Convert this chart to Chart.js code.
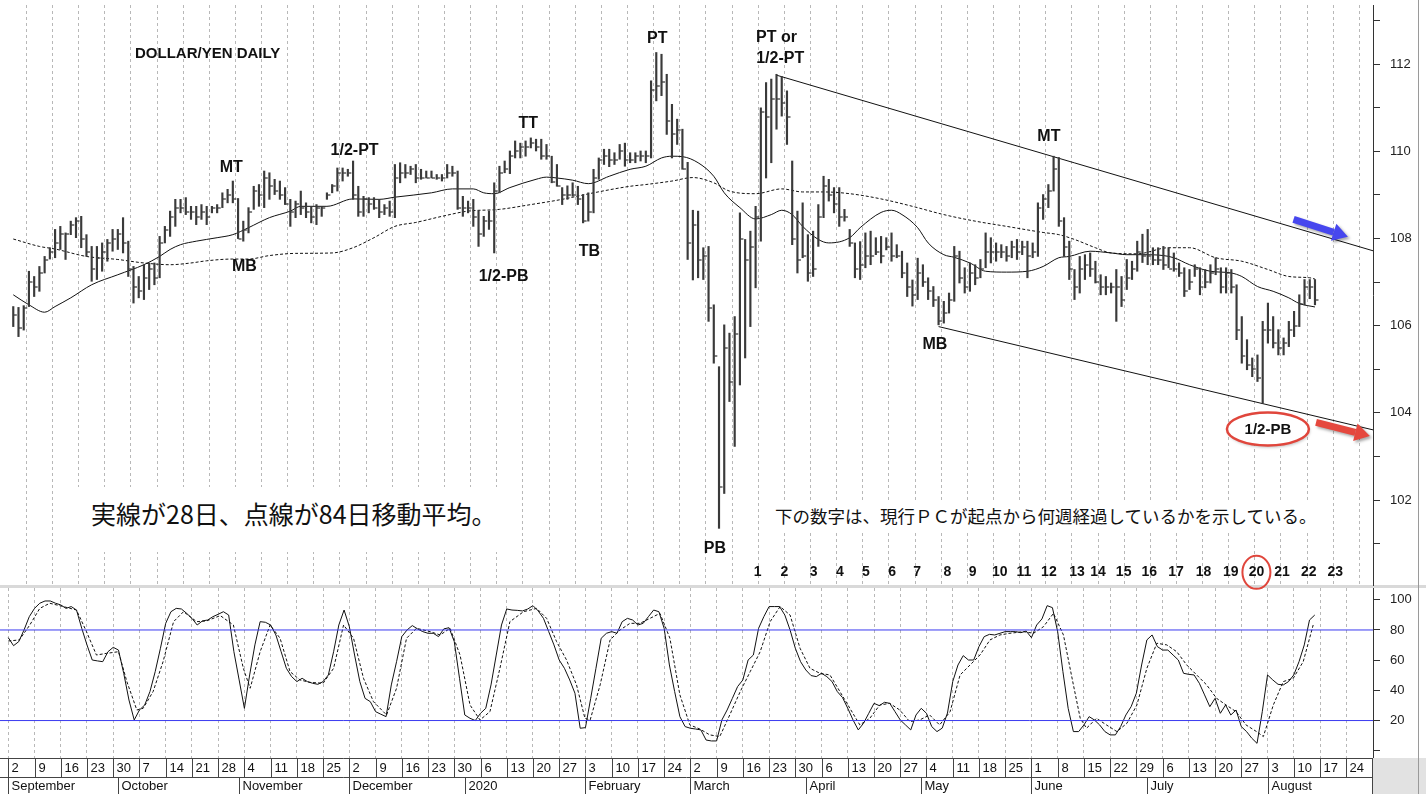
<!DOCTYPE html>
<html>
<head>
<meta charset="utf-8">
<script src="https://cdn.jsdelivr.net/npm/chart.js"></script>
<style>
  body { margin: 0; background: #fff; width: 1426px; height: 794px; overflow: hidden; position: relative; font-family: "Liberation Sans", Arial, sans-serif; }
  #priceChart { position: absolute; left: 0; top: 0; z-index: 2; }
  #stochChart { position: absolute; left: 0; top: 585px; z-index: 1; }
  .band { position: absolute; left: 0; top: 585px; width: 1426px; height: 3px; background: #d9d9d9; z-index: 0; }
  .edge { position: absolute; left: 1418px; top: 0; width: 1px; height: 794px; background: #9a9a9a; z-index: 3; }
  .title { position: absolute; left: 135px; top: 44px; font: bold 15px "Liberation Sans", Arial, sans-serif; color: #111; z-index: 3; }
  .note { position: absolute; background: #fff; color: #111; white-space: nowrap; font-family: "Noto Sans CJK JP", sans-serif; z-index: 3; }
  #note1 { left: 78px; top: 487px; width: 432px; height: 65px; font-size: 25px; line-height: 52px; padding-left: 13px; box-sizing: border-box; }
  #note2 { left: 770px; top: 501px; width: 552px; height: 30px; font-size: 17.5px; line-height: 30px; padding-left: 5px; box-sizing: border-box; }
</style>
</head>
<body>
<div class="band"></div>
<canvas id="priceChart" width="1426" height="600"></canvas>
<canvas id="stochChart" width="1426" height="209"></canvas>
<div class="edge"></div>
<div class="title">DOLLAR/YEN DAILY</div>
<div class="note" id="note1">実線が28日、点線が84日移動平均。</div>
<div class="note" id="note2">下の数字は、現行ＰＣが起点から何週経過しているかを示している。</div>
<script>
// trading days counted from Mon 2 Sep 2019 (index 0), five per week
const weekLabels = [2, 9, 16, 23, 30, 7, 14, 21, 28, 4, 11, 18, 25, 2, 9, 16, 23, 30, 6, 13, 20, 27, 3, 10, 17, 24,
  2, 9, 16, 23, 30, 6, 13, 20, 27, 4, 11, 18, 25, 1, 8, 15, 22, 29, 6, 13, 20, 27, 3, 10, 17, 24];
const monthLabels = ['September', 'October', 'November', 'December', '2020', 'February', 'March', 'April', 'May', 'June', 'July', 'August'];
const monthStarts = [0, 21, 44, 65, 87, 110, 130, 152, 174, 195, 217, 240];

const highs = [
  106.44, 106.42, 106.46, 107.25, 107.13, 107.36, 107.59, 107.79, 108.21, 108.28,
  108.13, 108.40, 108.48, 108.51, 108.09, 107.82, 107.82, 107.90, 107.98, 108.21,
  108.21, 108.48, 107.94, 107.36, 107.13, 107.40, 107.44, 107.44, 108.05, 108.28,
  108.63, 108.90, 108.90, 108.94, 108.74, 108.74, 108.78, 108.74, 108.74, 108.78,
  109.05, 109.13, 109.32, 108.92, 108.40, 108.71, 109.20, 109.24, 109.55, 109.51,
  109.36, 109.32, 109.17, 108.90, 108.86, 109.09, 108.82, 108.74, 108.78, 108.74,
  109.05, 109.24, 109.62, 109.62, 109.59, 109.78, 109.20, 108.97, 108.94, 108.94,
  108.90, 108.78, 108.86, 109.70, 109.74, 109.70, 109.66, 109.70, 109.59, 109.55,
  109.55, 109.47, 109.47, 109.70, 109.66, 109.55, 108.97, 108.86, 108.90, 108.63,
  108.51, 108.63, 109.28, 109.66, 109.78, 110.01, 110.24, 110.19, 110.24, 110.31,
  110.28, 110.28, 110.16, 109.89, 109.70, 109.17, 109.21, 109.28, 109.20, 109.01,
  109.05, 109.59, 109.85, 110.05, 110.05, 109.97, 110.16, 110.19, 109.97, 109.97,
  110.01, 110.01, 111.62, 112.27, 112.23, 111.77, 111.08, 110.74, 110.51, 109.75,
  108.65, 108.63, 107.79, 107.82, 106.48, 105.06, 106.02, 105.83, 106.21, 108.59,
  107.98, 108.17, 108.74, 111.00, 111.58, 111.66, 111.77, 111.72, 111.39, 109.78,
  108.63, 108.82, 108.09, 108.17, 108.78, 109.43, 109.36, 109.17, 109.17, 108.67,
  108.21, 107.90, 107.93, 108.13, 108.17, 108.02, 108.05, 108.02, 108.13, 107.86,
  107.71, 107.44, 107.05, 107.55, 107.40, 107.10, 106.90, 106.67, 106.56, 106.75,
  107.82, 107.71, 107.33, 107.44, 107.40, 107.52, 108.13, 108.02, 107.90, 107.86,
  107.82, 107.94, 107.98, 107.94, 107.94, 107.90, 108.82, 109.01, 109.24, 109.89,
  109.86, 108.48, 107.94, 107.29, 107.59, 107.63, 107.67, 107.48, 107.17, 107.13,
  106.98, 107.29, 107.13, 107.52, 107.48, 107.94, 108.10, 108.21, 107.79, 107.79,
  107.82, 107.79, 107.67, 107.44, 107.33, 107.29, 107.40, 107.33, 107.29, 107.40,
  107.56, 107.33, 107.33, 107.29, 106.94, 106.21, 105.68, 105.26, 105.33, 106.10,
  106.52, 106.21, 105.91, 105.72, 106.10, 106.33, 106.71, 107.06, 107.06, 107.06
];
const lows = [
  105.98, 105.75, 105.90, 106.44, 106.67, 106.79, 107.21, 107.53, 107.56, 107.75,
  107.52, 108.09, 108.02, 107.79, 107.59, 107.02, 107.06, 107.25, 107.48, 107.71,
  107.75, 107.67, 107.13, 106.52, 106.64, 106.60, 106.83, 106.94, 107.10, 107.90,
  108.05, 108.28, 108.59, 108.55, 108.44, 108.32, 108.44, 108.32, 108.59, 108.59,
  108.71, 108.82, 108.82, 108.00, 107.94, 108.13, 108.67, 108.74, 108.71, 108.90,
  109.01, 108.90, 108.78, 108.28, 108.48, 108.55, 108.48, 108.36, 108.32, 108.51,
  108.90, 109.05, 109.09, 109.32, 109.43, 108.90, 108.51, 108.51, 108.59, 108.67,
  108.48, 108.55, 108.51, 108.48, 109.28, 109.39, 109.47, 109.28, 109.36, 109.39,
  109.39, 109.36, 109.32, 109.39, 109.43, 108.67, 108.51, 108.59, 108.28, 107.82,
  108.05, 108.21, 107.67, 109.05, 109.51, 109.49, 109.85, 109.85, 109.89, 110.08,
  110.01, 109.82, 109.82, 109.28, 109.20, 108.78, 108.90, 108.97, 108.78, 108.36,
  108.40, 108.59, 109.36, 109.70, 109.65, 109.70, 109.82, 109.66, 109.74, 109.74,
  109.78, 109.74, 109.85, 111.16, 111.28, 110.39, 109.85, 110.16, 109.59, 107.52,
  107.05, 107.10, 107.06, 106.10, 105.14, 101.35, 102.15, 104.26, 103.23, 104.64,
  105.26, 105.98, 106.87, 107.94, 109.39, 109.74, 110.51, 110.81, 110.16, 107.86,
  107.21, 107.56, 107.02, 107.13, 107.82, 108.48, 108.86, 108.59, 108.28, 108.40,
  107.82, 107.10, 107.06, 107.33, 107.40, 107.63, 107.44, 107.74, 107.48, 107.56,
  107.10, 106.67, 106.45, 106.60, 106.90, 106.60, 106.44, 106.02, 106.06, 106.29,
  106.56, 106.98, 106.75, 106.79, 106.94, 107.10, 107.33, 107.44, 107.48, 107.56,
  107.48, 107.56, 107.52, 107.63, 107.10, 107.56, 107.59, 108.44, 108.71, 109.09,
  108.28, 107.59, 107.06, 106.60, 106.75, 107.06, 107.13, 106.98, 106.71, 106.71,
  106.75, 106.10, 106.44, 106.83, 107.06, 107.25, 107.45, 107.40, 107.40, 107.40,
  107.29, 107.33, 107.25, 107.13, 106.67, 106.83, 107.13, 106.71, 106.87, 106.98,
  107.17, 106.75, 106.75, 106.75, 105.68, 105.14, 104.99, 104.83, 104.72, 104.22,
  105.60, 105.49, 105.33, 105.33, 105.52, 105.75, 105.98, 106.48, 106.62, 106.48
];
const closes = [
  106.25, 105.95, 106.40, 107.00, 106.90, 107.20, 107.50, 107.70, 107.90, 108.10,
  108.10, 108.30, 108.40, 108.00, 107.70, 107.30, 107.55, 107.70, 107.90, 108.00,
  108.10, 107.90, 107.30, 106.90, 106.80, 107.10, 107.30, 107.10, 107.90, 108.20,
  108.50, 108.70, 108.70, 108.60, 108.60, 108.50, 108.60, 108.50, 108.70, 108.70,
  108.90, 109.00, 108.90, 108.00, 108.20, 108.60, 109.10, 109.00, 109.40, 109.20,
  109.10, 109.00, 108.80, 108.60, 108.80, 108.70, 108.60, 108.50, 108.70, 108.70,
  109.00, 109.20, 109.50, 109.50, 109.50, 109.00, 108.60, 108.90, 108.80, 108.70,
  108.60, 108.70, 108.60, 109.40, 109.50, 109.50, 109.60, 109.40, 109.40, 109.40,
  109.40, 109.40, 109.40, 109.50, 109.50, 108.70, 108.70, 108.70, 108.50, 108.10,
  108.40, 108.40, 109.10, 109.50, 109.60, 109.90, 110.00, 110.10, 110.10, 110.20,
  110.10, 109.90, 109.90, 109.30, 109.20, 109.00, 109.00, 109.00, 108.90, 108.40,
  108.60, 109.40, 109.80, 109.90, 109.80, 109.80, 110.00, 109.80, 109.80, 109.90,
  109.90, 109.90, 111.40, 111.50, 111.60, 110.70, 110.40, 110.50, 109.60, 107.90,
  108.30, 107.50, 107.60, 106.40, 105.30, 102.30, 105.50, 104.70, 105.80, 108.00,
  107.50, 107.80, 108.50, 110.90, 110.80, 111.20, 111.20, 111.10, 110.80, 108.00,
  107.50, 107.60, 107.20, 107.30, 108.50, 109.20, 109.00, 108.80, 108.50, 108.50,
  107.90, 107.30, 107.40, 107.60, 107.60, 107.70, 107.60, 107.80, 107.60, 107.60,
  107.20, 106.90, 106.70, 107.20, 107.00, 106.80, 106.60, 106.10, 106.30, 106.60,
  107.60, 107.10, 106.90, 107.20, 107.10, 107.30, 107.70, 107.70, 107.70, 107.70,
  107.60, 107.80, 107.70, 107.80, 107.60, 107.70, 108.70, 108.90, 109.10, 109.60,
  108.40, 107.80, 107.30, 106.90, 107.30, 107.40, 107.30, 107.00, 106.90, 106.90,
  106.90, 106.90, 106.60, 107.10, 107.30, 107.70, 107.60, 107.60, 107.50, 107.50,
  107.40, 107.30, 107.30, 107.20, 106.80, 107.00, 107.30, 106.90, 107.00, 107.20,
  107.30, 106.90, 107.20, 106.90, 105.90, 105.30, 105.10, 105.00, 104.80, 105.90,
  105.90, 105.60, 105.50, 105.60, 105.90, 106.00, 106.50, 106.90, 106.90, 106.60
];

// moving averages as [day, value]
const ma28 = [
  [0, 106.71], [3, 106.48], [6, 106.31], [8, 106.44], [11, 106.64], [15, 106.94], [20, 107.17], [25, 107.40],
  [28, 107.59], [30, 107.75], [32, 107.86], [35, 107.94], [39, 108.02], [42, 108.09], [45, 108.25], [49, 108.48],
  [53, 108.63], [55, 108.74], [60, 108.74], [65, 108.91], [70, 108.90], [73, 108.95], [80, 109.05], [84, 109.14],
  [88, 109.14], [90, 109.05], [92, 109.03], [95, 109.17], [100, 109.36], [102, 109.41], [104, 109.39], [107, 109.34],
  [110, 109.26], [114, 109.43], [118, 109.59], [121, 109.66], [124, 109.85], [126, 109.89], [128, 109.88], [131, 109.74],
  [134, 109.43], [136, 109.05], [139, 108.71], [142, 108.45], [145, 108.55], [147, 108.65], [149, 108.55], [151, 108.28],
  [154, 107.98], [156, 107.90], [160, 108.02], [162, 108.25], [166, 108.60], [168, 108.65], [170, 108.55], [173, 108.25],
  [175, 107.90], [178, 107.63], [180, 107.57], [183, 107.44], [186, 107.25], [190, 107.23], [194, 107.25], [197, 107.36],
  [200, 107.56], [202, 107.59], [206, 107.71], [210, 107.67], [213, 107.63], [216, 107.63], [220, 107.61], [222, 107.56],
  [225, 107.40], [229, 107.25], [233, 107.21], [235, 107.13], [238, 106.90], [241, 106.79], [244, 106.64], [246, 106.51],
  [249, 106.43]
];
const ma84 = [
  [0, 107.99], [5, 107.82], [8, 107.76], [14, 107.59], [20, 107.52], [25, 107.44], [30, 107.40], [34, 107.44],
  [37, 107.49], [42, 107.53], [45, 107.53], [49, 107.61], [54, 107.66], [61, 107.67], [65, 107.79], [69, 108.02],
  [73, 108.28], [77, 108.37], [82, 108.51], [87, 108.63], [93, 108.67], [99, 108.78], [105, 108.90], [111, 109.05],
  [118, 109.20], [121, 109.24], [126, 109.32], [130, 109.40], [134, 109.28], [137, 109.09], [142, 109.03], [147, 109.14],
  [151, 109.07], [155, 109.07], [160, 109.03], [166, 108.91], [172, 108.74], [178, 108.55], [184, 108.40], [190, 108.28],
  [197, 108.14], [200, 108.09], [203, 107.98], [207, 107.79], [210, 107.67], [215, 107.65], [221, 107.79], [225, 107.79],
  [230, 107.56], [235, 107.48], [240, 107.29], [244, 107.13], [248, 107.10], [249, 107.07]
];
const upperTrend = [[146, 111.75], [260.1, 107.72]];
const lowerTrend = [[177, 105.98], [260.1, 103.61]];

// stochastics: %K per day, %D read as [day, value]
const stochK = [
  74.9, 69.6, 72.3, 80.0, 88.8, 94.3, 97.7, 99.2, 99.2, 97.7,
  96.6, 94.3, 95.5, 93.2, 81.1, 70.1, 60.1, 59.5, 59.0, 65.6,
  68.5, 66.7, 51.3, 33.6, 20.4, 27.0, 30.3, 39.2, 52.4, 67.9,
  84.4, 92.1, 94.3, 93.9, 91.0, 87.7, 83.3, 86.0, 86.6, 88.8,
  90.4, 92.1, 89.9, 65.6, 46.9, 28.1, 50.2, 70.1, 85.5, 85.1,
  83.3, 76.7, 65.6, 54.6, 49.1, 45.8, 48.0, 45.8, 44.7, 44.0,
  45.8, 50.2, 65.6, 83.3, 93.2, 82.2, 63.4, 45.8, 34.7, 32.5,
  25.9, 24.2, 22.6, 43.6, 59.0, 75.6, 80.0, 82.9, 80.7, 78.9,
  77.8, 77.8, 75.6, 80.7, 81.5, 72.3, 48.0, 23.7, 21.5, 20.0,
  24.8, 28.1, 43.6, 63.4, 83.3, 93.9, 93.2, 93.0, 92.6, 93.9,
  96.1, 92.6, 87.7, 78.9, 70.1, 60.1, 54.6, 46.9, 38.1, 14.9,
  15.3, 34.7, 54.6, 74.5, 77.8, 78.9, 77.8, 85.5, 87.7, 86.6,
  83.3, 84.4, 88.8, 93.2, 92.1, 81.1, 56.8, 39.2, 22.6, 16.0,
  14.9, 14.4, 13.8, 7.1, 6.5, 6.5, 20.4, 27.0, 34.7, 42.5,
  46.9, 60.1, 63.4, 81.1, 88.8, 95.5, 95.5, 95.5, 89.9, 80.0,
  67.9, 59.0, 53.5, 49.8, 49.1, 51.3, 49.1, 45.8, 39.2, 35.2,
  28.1, 20.4, 13.8, 18.2, 24.8, 31.4, 29.9, 32.1, 31.4, 25.9,
  20.4, 17.1, 13.8, 23.7, 28.1, 24.8, 16.0, 12.7, 15.0, 25.0,
  45.8, 56.8, 63.0, 60.1, 60.1, 69.0, 75.6, 77.1, 76.7, 77.8,
  78.9, 78.9, 78.9, 78.2, 79.3, 74.9, 83.3, 87.3, 96.1, 94.8,
  78.9, 52.4, 28.1, 12.7, 12.7, 17.1, 22.6, 20.4, 17.1, 12.7,
  10.5, 10.5, 16.0, 23.7, 29.2, 38.1, 56.8, 73.4, 76.7, 69.0,
  66.7, 66.7, 63.4, 60.1, 51.3, 50.6, 50.2, 44.7, 37.0, 29.2,
  34.7, 24.8, 30.3, 23.7, 27.0, 16.0, 12.7, 8.3, 4.9, 25.9,
  50.2, 46.9, 44.0, 43.6, 45.8, 50.2, 59.0, 70.1, 86.6, 89.9
];
const stochD = [
  [0, 72.7], [2.1, 73.4], [4.1, 83.3], [6, 94.3], [7.9, 97.7], [10.5, 95.5], [13, 93.2], [14.9, 78.9], [16.8, 63.4],
  [18.7, 64.5], [21, 65.6], [22.6, 45.8], [24.5, 27], [25.7, 28.1], [27.6, 39.2], [29.5, 59], [31.5, 85.5], [33.4, 92.1],
  [35.9, 85.5], [37.8, 86], [40.4, 89.5], [42.9, 83.3], [44.8, 54.6], [46.1, 41.4], [48, 65.6], [49.9, 83.3], [51.8, 74.5],
  [53.7, 52.4], [55.6, 46.9], [57.5, 45.3], [60, 44.7], [62, 54.6], [63.9, 83.3], [65.8, 74.5], [67.7, 48], [69.6, 32.5],
  [72.1, 23.7], [74, 41.4], [75.9, 74.5], [77.8, 81.1], [80.4, 78.9], [82.3, 76.7], [84.2, 81.1], [86.1, 63.4], [88, 30.3],
  [89.9, 20.4], [91.8, 25.9], [93.7, 54.6], [95.6, 85.5], [98.2, 92.1], [100.7, 94.3], [102.6, 87.7], [104.5, 72.3],
  [106.4, 60.1], [108.3, 43.6], [109.9, 21.5], [110.9, 20.4], [112.8, 43.6], [114.7, 73.4], [116.6, 80], [118.5, 84.4],
  [120.4, 84.4], [122.3, 87.7], [124.2, 91], [126.1, 74.5], [128, 37], [129.9, 17.1], [131.8, 14.4], [133.7, 10.5],
  [135.6, 9.4], [137.5, 23.7], [139.5, 39.2], [141.4, 52.4], [143.3, 65.6], [145.2, 85.5], [147.1, 95.5], [149, 89.9],
  [150.9, 67.9], [152.8, 54.6], [154.7, 51.3], [156.6, 50.2], [158.5, 39.2], [160.4, 28.1], [162.3, 17.1], [164.2, 21.5],
  [166.1, 30.3], [168, 31.4], [169.9, 27], [171.8, 19.3], [173.7, 20.4], [175.6, 23.7], [177.5, 17.1], [179.5, 25.9],
  [181.4, 50.2], [183.3, 56.8], [185.2, 63.4], [187.1, 73.4], [189, 76.7], [190.9, 77.8], [193.5, 78.9], [195.4, 77.8],
  [197.3, 82.2], [199.2, 91], [201.1, 76.7], [203, 43.6], [204.3, 21.5], [205.5, 14.9], [207.4, 21.5], [209.3, 17.1],
  [211.3, 12.7], [213.2, 18.2], [215.1, 30.3], [217, 54.6], [218.9, 71.2], [220.8, 70.1], [222.7, 65.6], [224.6, 56.8],
  [226.5, 50.2], [228.4, 43.6], [230.3, 34.7], [232.1, 30.3], [234, 25.9], [235.9, 17.1], [237.9, 12.7], [239.2, 9.4],
  [241.1, 30.3], [243, 45.8], [244.9, 48], [246.8, 59], [248.7, 83.3]
];
const stochLevels = [80, 20];

// chart annotations as [text, day, price]
const patternLabels = [
  ['MT', 41.7, 109.64], ['MB', 44.2, 107.35], ['1/2-PT', 65.3, 110.03], ['TT', 98.5, 110.63],
  ['1/2-PB', 93.8, 107.13], ['TB', 110.2, 107.70], ['PT', 123.2, 112.60], ['PT or', 146.0, 112.62],
  ['1/2-PT', 146.7, 112.12], ['PB', 134.2, 100.88], ['MT', 198.1, 110.35], ['MB', 176.3, 105.56]
];
const ringedLabel = ['1/2-PB', 240.0, 103.63];
const weekCounts = ['1', '2', '3', '4', '5', '6', '7', '8', '9', '10', '11', '12', '13', '14', '15', '16', '17', '18', '19', '20', '21', '22', '23'];
const weekCountDays = [142.4, 147.5, 153.1, 158.1, 163.1, 168.1, 172.9, 178.7, 183.5, 188.7, 193.3, 198.1, 203.5, 207.5,
  212.4, 217.3, 222.4, 227.7, 232.9, 237.8, 242.7, 247.8, 252.9];
const weekCountPrice = 100.34;
const circledCount = 19;
const blueArrow = [[244.9, 108.44], [255.3, 108.04]];
const redArrow = [[249.2, 103.78], [259.5, 103.47]];

const X_MIN = -1.58, X_MAX = 260.1;
const FONT = '"Liberation Sans", Arial, sans-serif';

const weekTicks = (scale) => { scale.ticks = weekLabels.map((_, i) => ({ value: i * 5 })); };
const pts = (arr) => arr.map(([x, y]) => ({ x, y }));

function closeTick() {
  const c = document.createElement('canvas');
  c.width = 9; c.height = 2;
  const g = c.getContext('2d');
  g.fillStyle = '#333';
  g.fillRect(5, 0.4, 3, 1.2);
  return c;
}

function drawArrow(ctx, x0, y0, x1, y1, color) {
  const a = Math.atan2(y1 - y0, x1 - x0);
  const bx = x1 - 15 * Math.cos(a), by = y1 - 15 * Math.sin(a);
  ctx.save();
  ctx.shadowColor = 'rgba(0,0,0,0.35)'; ctx.shadowOffsetX = 2; ctx.shadowOffsetY = 2; ctx.shadowBlur = 3;
  ctx.strokeStyle = color; ctx.fillStyle = color; ctx.lineWidth = 7; ctx.lineCap = 'butt';
  ctx.beginPath(); ctx.moveTo(x0, y0); ctx.lineTo(bx, by); ctx.stroke();
  ctx.beginPath();
  ctx.moveTo(x1, y1);
  ctx.lineTo(bx + 9 * Math.sin(a), by - 9 * Math.cos(a));
  ctx.lineTo(bx - 9 * Math.sin(a), by + 9 * Math.cos(a));
  ctx.closePath(); ctx.fill();
  ctx.restore();
}

const annotations = {
  id: 'annotations',
  afterDatasetsDraw(chart) {
    const { ctx, scales: { x, y } } = chart;
    const px = (d) => x.getPixelForValue(d), py = (p) => y.getPixelForValue(p);
    ctx.save();
    ctx.fillStyle = '#111'; ctx.textAlign = 'center'; ctx.textBaseline = 'middle';
    ctx.font = 'bold 16px ' + FONT;
    patternLabels.forEach(([t, d, p]) => ctx.fillText(t, px(d), py(p)));

    // ringed label
    const [rt, rd, rp] = ringedLabel;
    ctx.save();
    ctx.shadowColor = 'rgba(0,0,0,0.25)'; ctx.shadowOffsetX = 1; ctx.shadowOffsetY = 2; ctx.shadowBlur = 3;
    ctx.beginPath(); ctx.ellipse(px(rd), py(rp), 41, 16.5, 0, 0, Math.PI * 2);
    ctx.fillStyle = '#fff'; ctx.fill();
    ctx.restore();
    ctx.beginPath(); ctx.ellipse(px(rd), py(rp), 41, 16.5, 0, 0, Math.PI * 2);
    ctx.strokeStyle = '#e0463c'; ctx.lineWidth = 2.5; ctx.stroke();
    ctx.fillStyle = '#111'; ctx.font = 'bold 15px ' + FONT;
    ctx.fillText(rt, px(rd), py(rp) + 1);

    // week counter row
    ctx.font = 'bold 14px ' + FONT;
    weekCounts.forEach((t, i) => ctx.fillText(t, px(weekCountDays[i]), py(weekCountPrice)));
    ctx.beginPath();
    ctx.ellipse(px(weekCountDays[circledCount]), py(weekCountPrice), 14, 16.5, 0, 0, Math.PI * 2);
    ctx.strokeStyle = '#e0463c'; ctx.lineWidth = 2; ctx.stroke();

    drawArrow(ctx, px(blueArrow[0][0]), py(blueArrow[0][1]), px(blueArrow[1][0]), py(blueArrow[1][1]), '#4747ee');
    drawArrow(ctx, px(redArrow[0][0]), py(redArrow[0][1]), px(redArrow[1][0]), py(redArrow[1][1]), '#e5483e');
    ctx.restore();
  }
};

const dateAxis = {
  id: 'dateAxis',
  afterDraw(chart) {
    const { ctx, chartArea: a, scales: { x } } = chart;
    const y0 = Math.round(a.bottom), y1 = y0 + 19, y2 = chart.height;
    ctx.save();
    ctx.fillStyle = '#e2e2e2';
    ctx.fillRect(a.right, y0, chart.width - a.right, y2 - y0);
    ctx.strokeStyle = '#444'; ctx.lineWidth = 1;
    ctx.beginPath();
    ctx.moveTo(0, y0 + 0.5); ctx.lineTo(a.right, y0 + 0.5);
    ctx.moveTo(0, y1 + 0.5); ctx.lineTo(a.right, y1 + 0.5);
    ctx.moveTo(Math.round(a.right) - 0.5, y0); ctx.lineTo(Math.round(a.right) - 0.5, y2);
    ctx.stroke();
    ctx.fillStyle = '#111'; ctx.textAlign = 'left'; ctx.textBaseline = 'middle';
    ctx.font = '13px ' + FONT;
    weekLabels.forEach((lab, i) => {
      const p = Math.round(x.getPixelForValue(i * 5)) + 0.5;
      ctx.beginPath(); ctx.moveTo(p, y0); ctx.lineTo(p, y1); ctx.stroke();
      ctx.fillText(String(lab), p + 3, (y0 + y1) / 2 + 1);
    });
    monthLabels.forEach((m, i) => {
      const p = Math.round(x.getPixelForValue(monthStarts[i])) + 0.5;
      ctx.beginPath(); ctx.moveTo(p, y1); ctx.lineTo(p, y2); ctx.stroke();
      ctx.fillText(m, p + 3, (y1 + y2) / 2 + 1);
    });
    ctx.restore();
  }
};

const xScale = {
  type: 'linear', min: X_MIN, max: X_MAX, offset: false,
  afterBuildTicks: weekTicks,
  afterFit: (s) => { s.height = 0; s.paddingLeft = 0; s.paddingRight = 0; },
  ticks: { display: false },
  grid: { color: '#b8b8b8', lineWidth: 1, drawTicks: false },
  border: { display: false, dash: [3, 3] }
};

function rightAxis(min, max, values, label) {
  return {
    type: 'linear', position: 'right', min, max,
    afterBuildTicks: (s) => { s.ticks = values.map((v) => ({ value: v })); },
    // fixed width, and no extra room for the end labels so the plot keeps its full height
    afterFit: (s) => { s.width = 53; s.paddingTop = 0; s.paddingBottom = 0; },
    ticks: { callback: label, color: '#222', font: { family: FONT, size: 13 }, padding: 10 },
    grid: { drawOnChartArea: false, tickLength: 7, color: '#333' },
    border: { display: true, color: '#333' }
  };
}

const common = {
  responsive: false, animation: false, devicePixelRatio: 1,
  plugins: { legend: { display: false }, tooltip: { enabled: false } }
};

const priceTicks = [101, 102, 103, 104, 105, 106, 107, 108, 109, 110, 111, 112, 113];
const stochTicks = [0, 10, 20, 30, 40, 50, 60, 70, 80, 90, 100];

new Chart(document.getElementById('priceChart'), {
  type: 'line',
  data: {
    datasets: [
      {
        type: 'bar', data: highs.map((h, i) => ({ x: i, y: [lows[i], h] })),
        backgroundColor: '#3a3a3a', barThickness: 1.5, grouped: false
      },
      {
        type: 'scatter', data: closes.map((c, i) => ({ x: i, y: c })),
        pointStyle: closeTick(), pointRadius: 2
      },
      { data: pts(ma28), borderColor: '#111', borderWidth: 1, pointRadius: 0, cubicInterpolationMode: 'monotone' },
      { data: pts(ma84), borderColor: '#111', borderWidth: 1, borderDash: [3, 2], pointRadius: 0, cubicInterpolationMode: 'monotone' },
      { data: pts(upperTrend), borderColor: '#111', borderWidth: 1, pointRadius: 0 },
      { data: pts(lowerTrend), borderColor: '#111', borderWidth: 1, pointRadius: 0 }
    ]
  },
  options: {
    ...common,
    layout: { padding: { top: 5, bottom: 15, left: 0, right: 0 } },
    scales: {
      x: xScale,
      y: rightAxis(100.05, 113.36, priceTicks, (v) => (v % 2 === 0 ? String(v) : ''))
    }
  },
  plugins: [annotations]
});

new Chart(document.getElementById('stochChart'), {
  type: 'line',
  data: {
    datasets: [
      ...stochLevels.map((v) => ({
        data: [{ x: X_MIN, y: v }, { x: X_MAX, y: v }], borderColor: '#3a3af0', borderWidth: 1, pointRadius: 0
      })),
      { data: stochK.map((v, i) => ({ x: i, y: v })), borderColor: '#111', borderWidth: 1, pointRadius: 0 },
      { data: pts(stochD), borderColor: '#111', borderWidth: 1, borderDash: [3, 2], pointRadius: 0 }
    ]
  },
  options: {
    ...common,
    layout: { padding: { top: 3, bottom: 36, left: 0, right: 0 } },
    scales: {
      x: xScale,
      y: rightAxis(-4.8, 107.8, stochTicks, (v) => (v >= 20 && v % 20 === 0 ? String(v) : ''))
    }
  },
  plugins: [dateAxis]
});
</script>
</body>
</html>
